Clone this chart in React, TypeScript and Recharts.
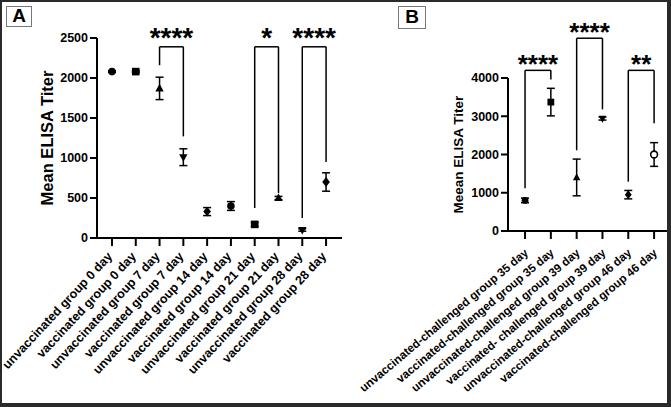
import React from 'react';
import { ScatterChart, Scatter, XAxis, YAxis, ErrorBar, ReferenceLine, ReferenceDot } from 'recharts';

// Panel A: ELISA titers by group / day
const GROUPS_A = [
  'unvaccinated group 0 day',
  'vaccinated group 0 day',
  'unvaccinated group 7 day',
  'vaccinated group 7 day',
  'unvaccinated group 14 day',
  'vaccinated group 14 day',
  'unvaccinated group 21 day',
  'vaccinated group 21 day',
  'unvaccinated group 28 day',
  'vaccinated group 28 day',
];
const MEANS_A = [2080, 2080, 1870, 1010, 330, 400, 170, 500, 100, 700];
const ERRORS_A = [10, 10, 140, 105, 50, 55, 25, 20, 15, 115];
const SHAPES_A = ['circle', 'square', 'triangle', 'down', 'diamond', 'circle', 'square', 'triangle', 'down', 'diamond'];
const TICKS_A = [0, 500, 1000, 1500, 2000, 2500];
const BRACKETS_A = [
  { from: 2, to: 3, top: 2390, leftEnd: 2160, rightEnd: 1270, stars: '****', starY: 2575 },
  { from: 6, to: 7, top: 2390, leftEnd: 375, rightEnd: 560, stars: '*', starY: 2575 },
  { from: 8, to: 9, top: 2390, leftEnd: 250, rightEnd: 950, stars: '****', starY: 2575 },
];

// Panel B: challenged groups
const GROUPS_B = [
  'unvaccinated-challenged group 35 day',
  'vaccinated-challenged group 35 day',
  'unvaccinated-challenged group 39 day',
  'vaccinated- challenged group 39 day',
  'unvaccinated-challenged group 46 day',
  'vaccinated-challenged group 46 day',
];
const MEANS_B = [800, 3370, 1400, 2940, 950, 2000];
const ERRORS_B = [60, 360, 480, 40, 110, 310];
const SHAPES_B = ['circle', 'square', 'triangle', 'down', 'diamond', 'open'];
const TICKS_B = [0, 1000, 2000, 3000, 4000];
const BRACKETS_B = [
  { from: 0, to: 1, top: 4200, leftEnd: 1120, rightEnd: 3960, stars: '****', starY: 4510 },
  { from: 2, to: 3, top: 5040, leftEnd: 2110, rightEnd: 3180, stars: '****', starY: 5350 },
  { from: 4, to: 5, top: 4200, leftEnd: 1290, rightEnd: 2820, stars: '**', starY: 4510 },
];

const FONT = '"Liberation Sans", Arial, sans-serif';

const drawMarker = (shape: string, cx: number, cy: number, s: number) => {
  switch (shape) {
    case 'square':
      return <rect x={cx - s} y={cy - s} width={s * 2} height={s * 2} fill="#000" />;
    case 'triangle':
      return <polygon points={`${cx},${cy - s * 1.2} ${cx - s * 1.1},${cy + s * 0.8} ${cx + s * 1.1},${cy + s * 0.8}`} fill="#000" />;
    case 'down':
      return <polygon points={`${cx},${cy + s * 1.2} ${cx - s * 1.1},${cy - s * 0.8} ${cx + s * 1.1},${cy - s * 0.8}`} fill="#000" />;
    case 'diamond':
      return <polygon points={`${cx},${cy - s * 1.3} ${cx + s},${cy} ${cx},${cy + s * 1.3} ${cx - s},${cy}`} fill="#000" />;
    case 'open':
      return <circle cx={cx} cy={cy} r={s} fill="#fff" stroke="#000" strokeWidth={1.6} />;
    default:
      return <circle cx={cx} cy={cy} r={s} fill="#000" />;
  }
};

type PanelProps = {
  groups: string[];
  means: number[];
  errors: number[];
  shapes: string[];
  ticks: number[];
  brackets: typeof BRACKETS_A;
  width: number;
  height: number;
  margin: { top: number; right: number; left: number; bottom: number };
  yAxisWidth: number;
  xAxisHeight: number;
  xDomain: [number, number];
  yTitle: string;
  titleSize: number;
  titleOffset: number;
  tickAngle: number;
  tickFont: number;
  tickShift: [number, number];
  starFont: number;
  markerSize: number;
};

const Panel = (p: PanelProps) => {
  const data = p.means.map((m, i) => ({ x: i, y: m, err: p.errors[i] }));

  const XTick = ({ x, y, payload }: any) => (
    <g transform={`translate(${x + p.tickShift[0]},${y + p.tickShift[1]})`}>
      <text
        x={0}
        y={0}
        textAnchor="end"
        transform={`rotate(${p.tickAngle})`}
        fontSize={p.tickFont}
        fontWeight="bold"
        fontFamily={FONT}
        fill="#000"
      >
        {p.groups[payload.value]}
      </text>
    </g>
  );

  return (
    <ScatterChart width={p.width} height={p.height} margin={p.margin}>
      <XAxis
        type="number"
        dataKey="x"
        domain={p.xDomain}
        ticks={p.groups.map((_, i) => i)}
        interval={0}
        height={p.xAxisHeight}
        tickSize={8}
        tickMargin={2}
        axisLine={{ stroke: '#000', strokeWidth: 2 }}
        tickLine={{ stroke: '#000', strokeWidth: 2 }}
        tick={<XTick />}
        allowDataOverflow
      />
      <YAxis
        type="number"
        dataKey="y"
        domain={[p.ticks[0], p.ticks[p.ticks.length - 1]]}
        ticks={p.ticks}
        width={p.yAxisWidth}
        tickSize={7}
        tickMargin={2}
        axisLine={{ stroke: '#000', strokeWidth: 2 }}
        tickLine={{ stroke: '#000', strokeWidth: 2 }}
        tick={{ fontSize: 12.5, fontWeight: 'bold', fill: '#000', fontFamily: FONT }}
        label={{
          value: p.yTitle,
          angle: -90,
          position: 'insideLeft',
          offset: p.titleOffset,
          style: { textAnchor: 'middle', fontSize: p.titleSize, fontWeight: 'bold', fill: '#000', fontFamily: FONT },
        }}
      />
      {p.brackets.map((b, i) => (
        <ReferenceLine
          key={`l${i}`}
          segment={[{ x: b.from, y: b.leftEnd }, { x: b.from, y: b.top }]}
          stroke="#000"
          strokeWidth={1.5}
          ifOverflow="visible"
        />
      ))}
      {p.brackets.map((b, i) => (
        <ReferenceLine
          key={`t${i}`}
          segment={[{ x: b.from, y: b.top }, { x: b.to, y: b.top }]}
          stroke="#000"
          strokeWidth={1.5}
          ifOverflow="visible"
        />
      ))}
      {p.brackets.map((b, i) => (
        <ReferenceLine
          key={`r${i}`}
          segment={[{ x: b.to, y: b.top }, { x: b.to, y: b.rightEnd }]}
          stroke="#000"
          strokeWidth={1.5}
          ifOverflow="visible"
        />
      ))}
      {p.brackets.map((b, i) => (
        <ReferenceDot
          key={`s${i}`}
          x={(b.from + b.to) / 2}
          y={b.starY}
          r={0}
          ifOverflow="visible"
          shape={(sp: any) => (
            <text
              x={sp.cx}
              y={sp.cy}
              dy="0.55em"
              textAnchor="middle"
              fontSize={p.starFont}
              fontWeight="bold"
              fontFamily={FONT}
              fill="#000"
            >
              {b.stars}
            </text>
          )}
        />
      ))}
      <Scatter
        data={data}
        isAnimationActive={false}
        shape={(sp: any) => drawMarker(p.shapes[sp.payload.x], sp.cx, sp.cy, p.markerSize)}
      >
        <ErrorBar dataKey="err" direction="y" width={4} stroke="#000" strokeWidth={1.5} />
      </Scatter>
    </ScatterChart>
  );
};

const LabelBox = ({ left, top, w, h, text }: { left: number; top: number; w: number; h: number; text: string }) => (
  <div
    style={{
      position: 'absolute',
      left,
      top,
      width: w,
      height: h,
      boxSizing: 'border-box',
      border: '1.5px solid #777',
      background: '#fff',
      fontFamily: FONT,
      fontWeight: 'bold',
      fontSize: 19,
      lineHeight: `${h - 3}px`,
      textAlign: 'center',
      color: '#000',
    }}
  >
    {text}
  </div>
);

export default function App() {
  return (
    <div style={{ position: 'absolute', left: 0, top: 0, width: 671, height: 407, background: '#fff', overflow: 'hidden' }}>
      <div style={{ position: 'absolute', left: 0, top: 0 }}>
        <Panel
          groups={GROUPS_A}
          means={MEANS_A}
          errors={ERRORS_A}
          shapes={SHAPES_A}
          ticks={TICKS_A}
          brackets={BRACKETS_A}
          width={345}
          height={407}
          margin={{ top: 38, right: 3, left: 37, bottom: 0 }}
          yAxisWidth={60}
          xAxisHeight={169}
          xDomain={[-0.63, 9.67]}
          yTitle="Mean ELISA Titer"
          titleSize={16.5}
          titleOffset={10}
          tickAngle={-47}
          tickFont={12.5}
          tickShift={[1, 9]}
          starFont={28}
          markerSize={3.8}
        />
      </div>
      <div style={{ position: 'absolute', left: 340, top: 0 }}>
        <Panel
          groups={GROUPS_B}
          means={MEANS_B}
          errors={ERRORS_B}
          shapes={SHAPES_B}
          ticks={TICKS_B}
          brackets={BRACKETS_B}
          width={331}
          height={407}
          margin={{ top: 78, right: 4, left: 113, bottom: 0 }}
          yAxisWidth={55}
          xAxisHeight={176}
          xDomain={[-0.66, 5.5]}
          yTitle="Meean ELISA Titer"
          titleSize={13.5}
          titleOffset={5}
          tickAngle={-40}
          tickFont={11.7}
          tickShift={[4, 13]}
          starFont={26}
          markerSize={3.4}
        />
      </div>
      <LabelBox left={6} top={6} w={26} h={21} text="A" />
      <LabelBox left={398} top={6} w={28} h={23} text="B" />
      <div
        style={{
          position: 'absolute',
          left: 0,
          top: 0,
          width: 671,
          height: 407,
          boxSizing: 'border-box',
          borderTop: '2px solid #2a2a2a',
          borderLeft: '2px solid #2a2a2a',
          borderRight: '4px solid #2a2a2a',
          borderBottom: '4px solid #2a2a2a',
          pointerEvents: 'none',
        }}
      />
    </div>
  );
}
